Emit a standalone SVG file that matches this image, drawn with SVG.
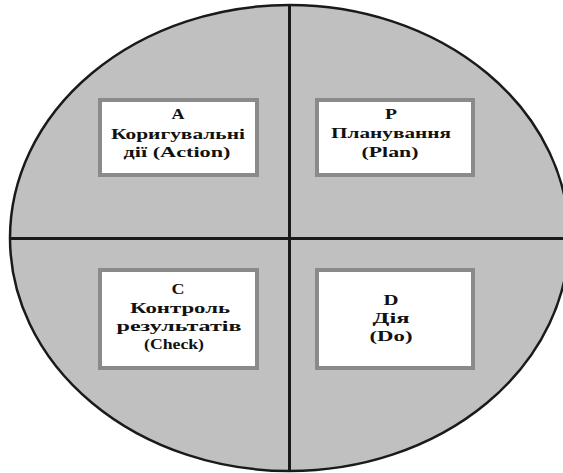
<svg xmlns="http://www.w3.org/2000/svg" width="563" height="473" viewBox="0 0 563 473">
<style>
.bg{fill:#ffffff}
.oval{fill:#c0c0c0;stroke:#1a1a1a;stroke-width:2.5}
.axis{stroke:#1a1a1a;stroke-width:3;fill:none}
.box{fill:#ffffff;stroke:#8a8a8a;stroke-width:4}
.t{font-family:"Liberation Serif","Times New Roman",serif;font-weight:bold;font-size:15.5px;fill:#111;text-anchor:middle}
</style>
<rect class="bg" x="0" y="0" width="563" height="473"/>
<g id="cycle">
<ellipse class="oval" cx="289.5" cy="238" rx="279.5" ry="233"/>
</g>
<g id="connectors">
<line class="axis" x1="289.5" y1="4" x2="289.5" y2="471"/>
<line class="axis" x1="10" y1="238.5" x2="563" y2="238.5"/>
</g>
<g id="node-A">
<rect class="box" x="100" y="100" width="157" height="75"/>
<text class="t" x="178" y="119" textLength="13" lengthAdjust="spacingAndGlyphs">A</text>
<text class="t" x="178" y="139" textLength="134" lengthAdjust="spacingAndGlyphs">Коригувальні</text>
<text class="t" x="177" y="157" textLength="107" lengthAdjust="spacingAndGlyphs">дії (Action)</text>
</g>
<g id="node-P">
<rect class="box" x="317" y="100" width="156" height="75"/>
<text class="t" x="391" y="119" textLength="12" lengthAdjust="spacingAndGlyphs">P</text>
<text class="t" x="391" y="138" textLength="120" lengthAdjust="spacingAndGlyphs">Планування</text>
<text class="t" x="390" y="157" textLength="57" lengthAdjust="spacingAndGlyphs">(Plan)</text>
</g>
<g id="node-C">
<rect class="box" x="100" y="270" width="157" height="98"/>
<text class="t" x="178" y="294" textLength="13" lengthAdjust="spacingAndGlyphs">C</text>
<text class="t" x="180" y="313" textLength="100" lengthAdjust="spacingAndGlyphs">Контроль</text>
<text class="t" x="179" y="331" textLength="125" lengthAdjust="spacingAndGlyphs">результатів</text>
<text class="t" x="174" y="349" textLength="60" lengthAdjust="spacingAndGlyphs">(Check)</text>
</g>
<g id="node-D">
<rect class="box" x="317" y="270" width="156" height="98"/>
<text class="t" x="391" y="305" textLength="15" lengthAdjust="spacingAndGlyphs">D</text>
<text class="t" x="391" y="323" textLength="37" lengthAdjust="spacingAndGlyphs">Дія</text>
<text class="t" x="391" y="341" textLength="43" lengthAdjust="spacingAndGlyphs">(Do)</text>
</g>
</svg>
